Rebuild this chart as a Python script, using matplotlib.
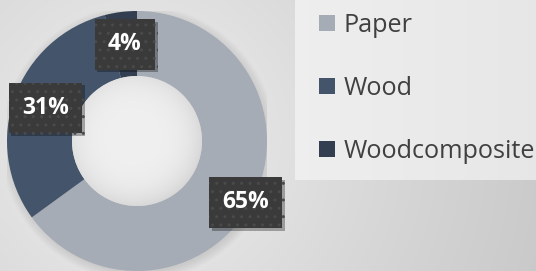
import numpy as np
import matplotlib
matplotlib.use("Agg")
import matplotlib.pyplot as plt
import matplotlib.patheffects as pe

categories = ["Paper", "Wood", "Woodcomposite"]
values = [65, 31, 4]
pct_labels = ["65%", "31%", "4%"]
colors = ["#a6acb5", "#44546a", "#333f50"]

W, H = 536, 271
fig = plt.figure(figsize=(W / 100, H / 100), dpi=100)

# background radial gradient
bg = fig.add_axes([0, 0, 1, 1], zorder=-10)
yy, xx = np.mgrid[0:H, 0:W]
d = np.hypot(xx - 137, yy - 141)
v = 0.95 - 0.16 * np.clip(d / 420, 0, 1) ** 0.8
bg.imshow(np.dstack([v, v, v]), extent=[0, W, H, 0], aspect="auto", interpolation="bilinear")
# lighter legend panel
gx = np.linspace(0, 1, 200)
panel = 0.935 - 0.03 * gx
bg.imshow(np.dstack([panel, panel, panel]).repeat(2, axis=0),
          extent=[295, W, 180, 0], aspect="auto")
bg.set_xlim(0, W)
bg.set_ylim(H, 0)
bg.axis("off")

# donut
R = 130
ax = fig.add_axes([(137 - R) / W, (H - 141 - R) / H, 2 * R / W, 2 * R / H])
# soft shadow ring behind donut
for k in range(6):
    ax.add_patch(plt.Circle((0.01, -0.015), 1.0 + k * 0.012, color="#000000", alpha=0.015, lw=0, zorder=0))
wedges, _ = ax.pie(values, colors=colors, startangle=90, counterclock=False,
                   wedgeprops=dict(width=0.5, edgecolor="none"), radius=1)
# hole with soft radial shading
n = 200
hy, hx = np.mgrid[-0.5:0.5:n * 1j, -0.5:0.5:n * 1j]
hr = np.hypot(hx + 0.03, hy - 0.03) / 0.5
hv = 0.94 - 0.07 * np.clip(hr, 0, 1.2) ** 4
img = ax.imshow(np.dstack([hv, hv, hv]), extent=[-0.5, 0.5, -0.5, 0.5], origin="lower",
                zorder=1, interpolation="bilinear")
clip = plt.Circle((0, 0), 0.5, transform=ax.transData, fc="none", ec="none")
ax.add_patch(clip)
img.set_clip_path(clip)
ax.set_xlim(-1, 1)
ax.set_ylim(-1, 1)
ax.set_aspect("auto")
ax.axis("off")

# data labels
label_r = [0.96, 0.75, 0.75]
label_shift = [-2.5, 0, 0]
for w, lab, r, sh in zip(wedges, pct_labels, label_r, label_shift):
    ang = np.deg2rad((w.theta1 + w.theta2) / 2 + sh)
    t = ax.text(r * np.cos(ang), r * np.sin(ang), lab, ha="center", va="center",
                fontsize=16.5, fontweight="bold", color="white", family="Open Sans",
                bbox=dict(boxstyle="square,pad=0.58", fc="#3a3a3a", ec="#4a4a4a",
                          lw=0, hatch=".."), zorder=5)
    t.get_bbox_patch().set_path_effects([pe.withSimplePatchShadow(offset=(2, -2), alpha=0.3, shadow_rgbFace="black")])

# legend
leg = fig.legend(wedges, categories, loc="center left",
                 bbox_to_anchor=(319 / W, 1 - 88.5 / H), bbox_transform=fig.transFigure,
                 frameon=False, borderpad=0, borderaxespad=0,
                 prop=dict(family="Open Sans", size=18.2),
                 handlelength=0.63, handleheight=0.63, handletextpad=0.33,
                 labelspacing=1.5, labelcolor="#404040")

fig.savefig("out.png", dpi=100)
